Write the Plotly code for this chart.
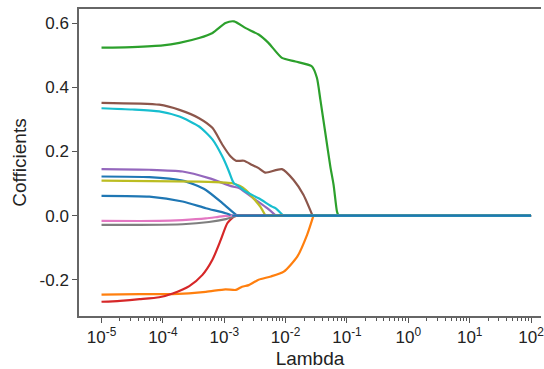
import plotly.graph_objects as go

# Lambda values (log10 exponents) and coefficients per feature
lam_blue1 = [-5, -4.22, -3.68, -3.49, -3.30, -3.03, -2.87, -2.79, 2]
coef_blue1 = [0.122, 0.120, 0.109, 0.097, 0.080, 0.039, 0.0125, 0.0, 0.0]

lam_orange = [-5, -4.38, -3.84, -3.30, -2.98, -2.81, -2.71, -2.60, -2.44, -2.24, -2.03, -1.81, -1.65, -1.546, 2]
coef_orange = [-0.247, -0.245, -0.245, -0.238, -0.230, -0.232, -0.222, -0.217, -0.200, -0.190, -0.175, -0.128, -0.060, 0.0, 0.0]

lam_green = [-5, -4.5, -4.0, -3.73, -3.41, -3.19, -2.98, -2.84, -2.65, -2.44, -2.28, -2.06, -1.84, -1.574,
             -1.49, -1.433, -1.352, -1.271, -1.218, -1.163, -1.14, 2]
coef_green = [0.524, 0.526, 0.531, 0.539, 0.554, 0.570, 0.601, 0.606, 0.585, 0.565, 0.539, 0.492, 0.481, 0.466,
              0.430, 0.361, 0.257, 0.153, 0.096, 0.0125, 0.0, 0.0]

lam_red = [-5, -4.7, -4.38, -4.06, -3.84, -3.57, -3.355, -3.193, -3.057, -2.95, -2.842, -2.79, 2]
coef_red = [-0.269, -0.266, -0.261, -0.255, -0.243, -0.220, -0.185, -0.138, -0.076, -0.024, -0.003, 0.0, 0.0]

lam_purple = [-5, -4.22, -3.68, -3.25, -2.87, -2.76, -2.49, -2.30, -2.16, 2]
coef_purple = [0.145, 0.143, 0.1375, 0.117, 0.091, 0.086, 0.049, 0.023, 0.0, 0.0]

lam_brown = [-5, -4.06, -3.73, -3.41, -3.19, -3.03, -2.895, -2.81, -2.68, -2.545, -2.44, -2.33, -2.06,
             -1.87, -1.71, -1.60, -1.562, 2]
coef_brown = [0.352, 0.346, 0.330, 0.304, 0.273, 0.221, 0.184, 0.171, 0.171, 0.158, 0.148, 0.134, 0.145,
              0.111, 0.065, 0.018, 0.0, 0.0]

lam_pink = [-5, -4.06, -3.68, -3.30, -3.10, -2.976, -2.90, 2]
coef_pink = [-0.0166, -0.0166, -0.014, -0.009, -0.004, -0.001, 0.0, 0.0]

lam_gray = [-5, -4.38, -3.68, -3.25, -2.976, -2.87, -2.79, 2]
coef_gray = [-0.029, -0.029, -0.027, -0.020, -0.011, -0.005, 0.0, 0.0]

lam_olive = [-5, -3.41, -2.976, -2.87, -2.75, -2.652, -2.53, -2.41, -2.33, 2]
coef_olive = [0.109, 0.106, 0.103, 0.101, 0.093, 0.080, 0.055, 0.027, 0.0, 0.0]

lam_cyan = [-5, -4.5, -4.06, -3.73, -3.41, -3.19, -3.03, -2.923, -2.87, -2.842, -2.76, -2.652, -2.44,
            -2.22, -2.166, -2.04, 2]
coef_cyan = [0.335, 0.331, 0.325, 0.309, 0.278, 0.237, 0.184, 0.1375, 0.111, 0.101, 0.091, 0.075, 0.054,
             0.028, 0.023, 0.0, 0.0]

lam_blue2 = [-5, -4.22, -3.68, -3.30, -2.976, -2.87, 2]
coef_blue2 = [0.0616, 0.059, 0.044, 0.023, 0.0075, 0.0, 0.0]

series = [
    (lam_blue1, coef_blue1, "#1f77b4"),
    (lam_orange, coef_orange, "#ff7f0e"),
    (lam_green, coef_green, "#2ca02c"),
    (lam_red, coef_red, "#d62728"),
    (lam_purple, coef_purple, "#9467bd"),
    (lam_brown, coef_brown, "#8c564b"),
    (lam_pink, coef_pink, "#e377c2"),
    (lam_gray, coef_gray, "#7f7f7f"),
    (lam_olive, coef_olive, "#bcbd22"),
    (lam_cyan, coef_cyan, "#17becf"),
    (lam_blue2, coef_blue2, "#1f77b4"),
]

tick_exps = [-5, -4, -3, -2, -1, 0, 1, 2]
tick_labels = ["10<sup>%d</sup>" % e for e in tick_exps]
y_ticks = [-0.2, 0.0, 0.2, 0.4, 0.6]
y_labels = ["-0.2", "0.0", "0.2", "0.4", "0.6"]

fig = go.Figure()
# smooth active part of each path
for lam, coef, col in series:
    k = coef.index(0.0)
    fig.add_trace(go.Scatter(x=[10 ** e for e in lam[:k + 1]], y=coef[:k + 1], mode="lines",
                             line=dict(color=col, width=2.2, shape="spline", smoothing=0.6),
                             showlegend=False))
# zero tail of each path
for lam, coef, col in series:
    k = coef.index(0.0)
    fig.add_trace(go.Scatter(x=[10 ** e for e in lam[k:]], y=coef[k:], mode="lines",
                             line=dict(color=col, width=2.2), showlegend=False))

minor_vals = [m * 10 ** e for e in tick_exps[:-1] for m in range(2, 10)]

axis_font = dict(family="Liberation Sans, Arial, sans-serif", size=17, color="#222")
fig.update_layout(
    width=544, height=369,
    margin=dict(l=79, r=0, t=9, b=53),
    paper_bgcolor="white", plot_bgcolor="white",
    font=dict(family="Liberation Sans, Arial, sans-serif", color="#222"),
    xaxis=dict(type="log", range=[-5.367, 2.162],
               tickmode="array", tickvals=[10 ** e for e in tick_exps], ticktext=tick_labels,
               ticklabeloverflow="allow",
               ticks="outside", ticklen=5, tickwidth=1.2, tickcolor="#555",
               minor=dict(tickmode="array", tickvals=minor_vals, ticks="outside", ticklen=3,
                          tickwidth=1, tickcolor="#555", showgrid=False),
               showline=True, linecolor="#666", linewidth=1.5, mirror=True,
               showgrid=False, zeroline=False, tickfont=axis_font,
               title=dict(text="Lambda", font=dict(size=19, color="#222"), standoff=6)),
    yaxis=dict(range=[-0.3134, 0.6447], tickmode="array", tickvals=y_ticks, ticktext=y_labels,
               ticks="outside", ticklen=5, tickwidth=1.2, tickcolor="#555",
               showline=True, linecolor="#666", linewidth=1.5, mirror=False,
               showgrid=False, zeroline=False, tickfont=axis_font,
               title=dict(text="Cofficients", font=dict(size=19, color="#222"), standoff=8)),
)

fig.write_html("out.html")
